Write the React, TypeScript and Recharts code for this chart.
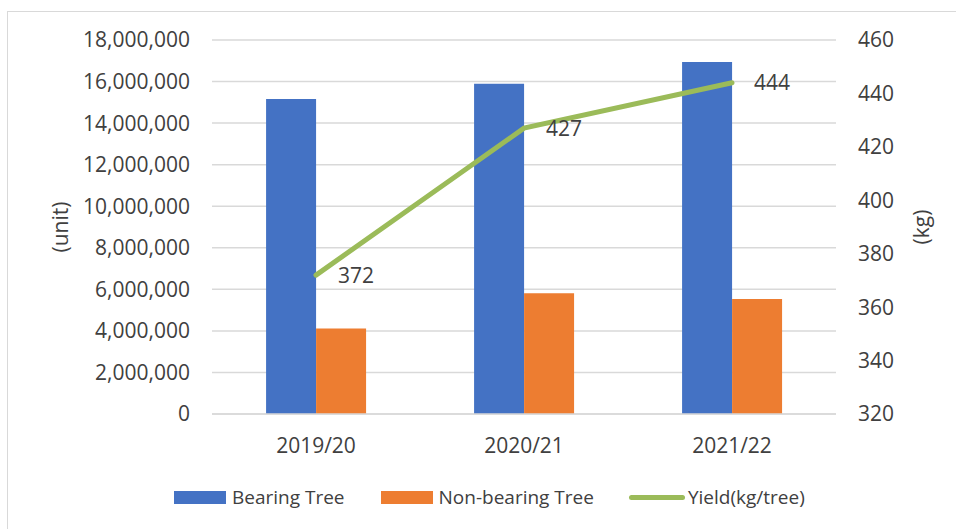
import { Bar, CartesianGrid, ComposedChart, LabelList, Legend, Line, XAxis, YAxis } from "recharts";

const seasons = ["2019/20", "2020/21", "2021/22"];
const bearingTree = [15160000, 15900000, 16940000];
const nonBearingTree = [4120000, 5810000, 5530000];
const yieldKg = [372, 427, 444];

const unitTicks = [0, 2000000, 4000000, 6000000, 8000000, 10000000, 12000000, 14000000, 16000000, 18000000];
const kgTicks = [320, 340, 360, 380, 400, 420, 440, 460];

const data = seasons.map((season, i) => ({
  season,
  bearing: bearingTree[i],
  nonBearing: nonBearingTree[i],
  yield: yieldKg[i],
}));

const TEXT = "#404040";
const GRID = "#d9d9d9";
const FONT = "'Open Sans', sans-serif";

const legendItems = [
  { label: "Bearing Tree", color: "#4472C4", kind: "rect", gapAfter: 36 },
  { label: "Non-bearing Tree", color: "#ED7D31", kind: "rect", gapAfter: 35 },
  { label: "Yield(kg/tree)", color: "#9BBB59", kind: "line", gapAfter: 0 },
];

function ChartLegend() {
  return (
    <div style={{ display: "flex", alignItems: "center", height: 30, paddingLeft: 174, fontFamily: FONT, fontSize: 19, color: TEXT }}>
      {legendItems.map((item) => (
        <div key={item.label} style={{ display: "flex", alignItems: "center", marginRight: item.gapAfter }}>
          {item.kind === "rect" ? (
            <span style={{ display: "inline-block", width: 52, height: 13, background: item.color, marginRight: 6 }} />
          ) : (
            <span style={{ display: "inline-block", width: 56, height: 5, borderRadius: 3, background: item.color, marginRight: 3 }} />
          )}
          <span>{item.label}</span>
        </div>
      ))}
    </div>
  );
}

function axisTitle(text: string, shift: number) {
  return ({ viewBox }: any) => {
    const cx = viewBox.x + shift;
    const cy = viewBox.y + viewBox.height / 2;
    return (
      <text x={cx} y={cy} transform={`rotate(-90 ${cx} ${cy})`} textAnchor="middle" dominantBaseline="central" fill={TEXT} fontSize={21} fontFamily={FONT}>
        {text}
      </text>
    );
  };
}

export default function App() {
  return (
    <div style={{ position: "fixed", left: 0, top: 0, width: 956, height: 529, overflow: "hidden", background: "#fff" }}>
      <div style={{ position: "absolute", left: 7, top: 11, width: 1000, height: 600, border: `1px solid ${GRID}` }} />
      <ComposedChart
        width={956}
        height={529}
        data={data}
        margin={{ top: 40, right: 0, left: 12, bottom: 55 }}
        barGap={0}
        barCategoryGap="26%"
        style={{ fontFamily: FONT, position: "absolute", left: 0, top: 0 }}
      >
        <CartesianGrid yAxisId="left" vertical={false} stroke={GRID} strokeWidth={1.5} />
        <XAxis
          dataKey="season"
          height={30}
          tickLine={false}
          tickSize={0}
          tickMargin={24}
          axisLine={{ stroke: GRID, strokeWidth: 1.5 }}
          tick={{ fill: TEXT, fontSize: 21 }}
        />
        <YAxis
          yAxisId="left"
          width={200}
          domain={[0, 18000000]}
          ticks={unitTicks}
          interval={0}
          tickLine={false}
          tickSize={0}
          tickMargin={22}
          axisLine={false}
          tick={{ fill: TEXT, fontSize: 21 }}
          tickFormatter={(v: number) => v.toLocaleString("en-US")}
          label={{ content: axisTitle("(unit)", 48) }}
        />
        <YAxis
          yAxisId="right"
          orientation="right"
          width={120}
          domain={[320, 460]}
          ticks={kgTicks}
          interval={0}
          tickLine={false}
          tickSize={0}
          tickMargin={22}
          axisLine={false}
          tick={{ fill: TEXT, fontSize: 21 }}
          label={{ content: axisTitle("(kg)", 85) }}
        />
        <Legend verticalAlign="bottom" content={() => <ChartLegend />} wrapperStyle={{ top: 482, bottom: "auto", left: 0, width: 956 }} />
        <Bar yAxisId="left" dataKey="bearing" name="Bearing Tree" fill="#4472C4" isAnimationActive={false} />
        <Bar yAxisId="left" dataKey="nonBearing" name="Non-bearing Tree" fill="#ED7D31" isAnimationActive={false} />
        <Line
          yAxisId="right"
          type="linear"
          dataKey="yield"
          name="Yield(kg/tree)"
          stroke="#9BBB59"
          strokeWidth={5}
          strokeLinecap="round"
          dot={false}
          isAnimationActive={false}
        >
          <LabelList dataKey="yield" position="right" offset={22} fill={TEXT} fontSize={21} fontFamily={FONT} />
        </Line>
      </ComposedChart>
    </div>
  );
}
